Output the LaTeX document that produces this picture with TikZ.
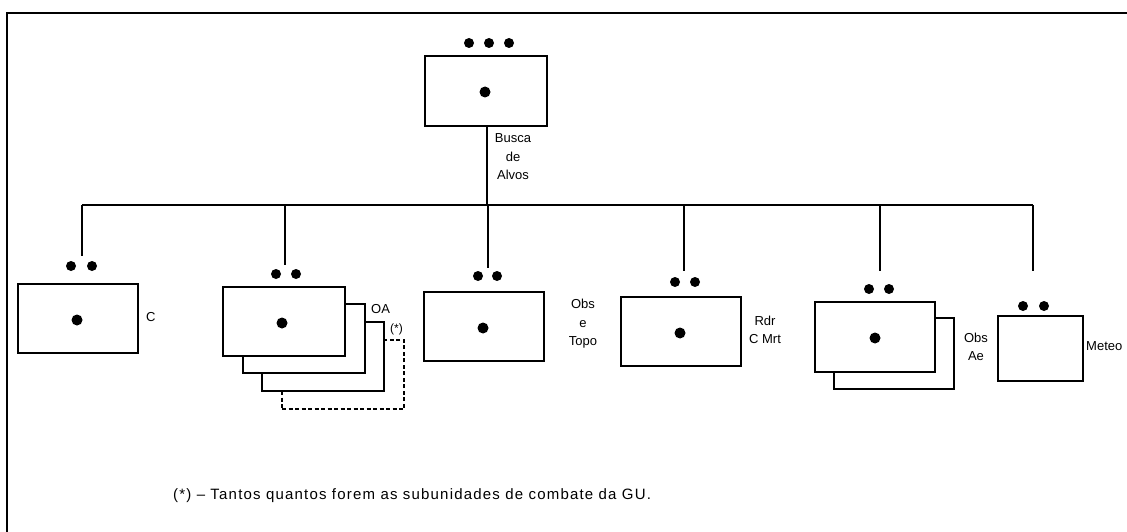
\documentclass[tikz,border=0pt]{standalone}
\usepackage{fontspec}
\setmainfont{Liberation Sans}
\begin{document}
\begin{tikzpicture}[x=1pt,y=-1pt,
 box/.style={draw, line width=1.8pt, fill=white, inner sep=0pt, minimum width=122pt, minimum height=69pt},
 dot/.style={circle, fill=black, inner sep=0pt, minimum size=10pt},
 cdot/.style={circle, fill=black, inner sep=0pt, minimum size=11pt},
 lbl/.style={font=\fontsize{13}{18.5}\selectfont, align=center, inner sep=0pt},
 conn/.style={line width=1.5pt},
 dashbox/.style={draw, line width=1.8pt, dash pattern=on 4pt off 2.5pt, inner sep=0pt, minimum width=122pt, minimum height=69pt}]
\useasboundingbox (0,0) rectangle (1127,532);
\draw[line width=2.5pt] (7,532) -- (7,13) -- (1127,13);

% top
\node[box, minimum height=70pt] (hq) at (486,91) {};
\node[cdot] (hqc) at (485,92) {};
\node[dot] (hqd1) at (469,43) {};
\node[dot] (hqd2) at (489,43) {};
\node[dot] (hqd3) at (509,43) {};
\node[lbl] (hql) at (513,157) {Busca\\de\\Alvos};

% bus
\coordinate (b0) at (487,205);
\coordinate (b1) at (82,205);
\coordinate (b2) at (285,205);
\coordinate (b3) at (488,205);
\coordinate (b4) at (684,205);
\coordinate (b5) at (880,205);
\coordinate (b6) at (1033,205);
\coordinate (e1) at (82,256);
\coordinate (e2) at (285,265);
\coordinate (e3) at (488,268);
\coordinate (e4) at (684,271);
\coordinate (e5) at (880,271);
\coordinate (e6) at (1033,271);
\draw[conn] (hq.south -| b0) -- (b0);
\draw[conn] (b1) -- (b6);
\foreach \i in {1,...,6} {\draw[conn] (b\i) -- (e\i);}

% C
\node[box, minimum width=120pt] (c) at (78,318.5) {};
\node[cdot] (cc) at (77,320) {};
\node[dot] (cd1) at (71,266) {};
\node[dot] (cd2) at (92,266) {};
\node[lbl, anchor=west] (cl) at (146,317) {C};

% OA
\node[dashbox] (oa4) at (343,374.5) {};
\node[box] (oa3) at (323,356.5) {};
\node[box] (oa2) at (304,338.5) {};
\node[box] (oa1) at (284,321.5) {};
\node[cdot] (oac) at (282,323) {};
\node[dot] (oad1) at (276,274) {};
\node[dot] (oad2) at (296,274) {};
\node[lbl, anchor=west] (oal) at (371,309) {OA};
\node[lbl, anchor=west, font=\fontsize{12}{13}\selectfont] (oas) at (390,329) {(*)};

% Obs e Topo
\node[box, minimum width=120pt] (ot) at (484,326.5) {};
\node[cdot] (otc) at (483,328) {};
\node[dot] (otd1) at (478,276) {};
\node[dot] (otd2) at (497,276) {};
\node[lbl] (otl) at (583,324) {Obs\\e\\Topo};

% Rdr C Mrt
\node[box, minimum width=120pt] (rd) at (681,331.5) {};
\node[cdot] (rdc) at (680,333) {};
\node[dot] (rdd1) at (675,282) {};
\node[dot] (rdd2) at (695,282) {};
\node[lbl] (rdl) at (765,330) {Rdr\\C Mrt};

% Obs Ae
\node[box, minimum width=120pt, minimum height=71pt] (ae2) at (894,353.5) {};
\node[box, minimum width=120pt, minimum height=70pt] (ae1) at (875,337) {};
\node[cdot] (aec) at (875,338) {};
\node[dot] (aed1) at (869,289) {};
\node[dot] (aed2) at (889,289) {};
\node[lbl] (ael) at (976,347) {Obs\\Ae};

% Meteo
\node[box, minimum width=85pt, minimum height=65pt] (me) at (1040.5,348.5) {};
\node[dot] (med1) at (1023,306) {};
\node[dot] (med2) at (1044,306) {};
\node[lbl, anchor=west] (mel) at (1086,346) {Meteo};

% footnote
\node[lbl, anchor=west, font=\fontsize{15}{18}\selectfont\addfontfeature{LetterSpace=8}] (fn) at (173,496) {(*) -- Tantos quantos forem as subunidades de combate da GU.};
\end{tikzpicture}
\end{document}
